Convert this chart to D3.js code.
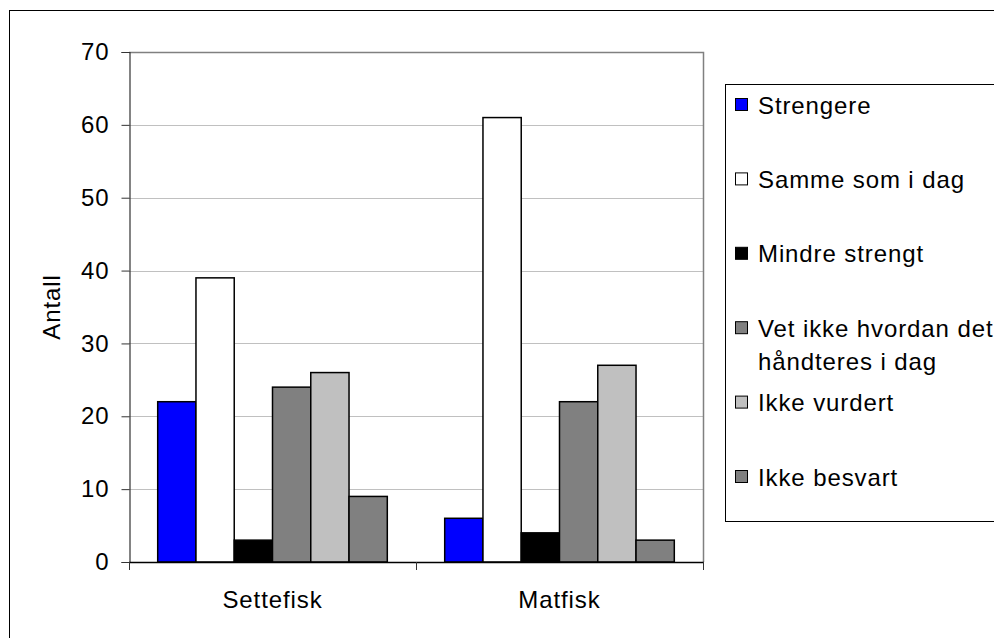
<!DOCTYPE html>
<html>
<head>
<meta charset="utf-8">
<script src="https://cdn.jsdelivr.net/npm/d3@7"></script>
<style>
  html, body { margin: 0; padding: 0; background: #fff; }
  svg { display: block; }
  text { font-family: "Liberation Sans", Arial, sans-serif; fill: #000; }
</style>
</head>
<body>
<svg id="chart" width="994" height="638"></svg>
<script>
const categories = ["Settefisk", "Matfisk"];
const seriesNames = ["Strengere", "Samme som i dag", "Mindre strengt", "Vet ikke hvordan det håndteres i dag", "Ikke vurdert", "Ikke besvart"];
const legendLines = [["Strengere"], ["Samme som i dag"], ["Mindre strengt"], ["Vet ikke hvordan det", "håndteres i dag"], ["Ikke vurdert"], ["Ikke besvart"]];
const settefiskValues = [22, 39, 3, 24, 26, 9];
const matfiskValues = [6, 61, 4, 22, 27, 3];
const seriesColors = ["#0000FF", "#FFFFFF", "#000000", "#808080", "#C0C0C0", "#808080"];
const yTicks = [0, 10, 20, 30, 40, 50, 60, 70];
const yTitle = "Antall";

const valuesByCategory = { "Settefisk": settefiskValues, "Matfisk": matfiskValues };

const svg = d3.select("#chart");
const FONT = 24, LS = 0.9;

// outer chart border
svg.append("rect").attr("x", 9.5).attr("y", 10.5).attr("width", 1100).attr("height", 800)
  .attr("fill", "#fff").attr("stroke", "#000").attr("stroke-width", 1);

const plot = { left: 129, right: 703, top: 52, bottom: 562 };

const x0 = d3.scaleBand().domain(categories).range([plot.left, plot.right]).padding(0);
const x1 = d3.scaleBand().domain(seriesNames).range([0, x0.bandwidth()]).paddingInner(0).paddingOuter(0.75);
const y = d3.scaleLinear().domain([0, 70]).range([plot.bottom, plot.top]);

// gridlines
svg.append("g").selectAll("line").data(yTicks.filter(t => t > 0 && t < 70)).join("line")
  .attr("x1", plot.left).attr("x2", plot.right)
  .attr("y1", d => Math.round(y(d)) + 0.5).attr("y2", d => Math.round(y(d)) + 0.5)
  .attr("stroke", "#c0c0c0").attr("stroke-width", 1);

// plot area border (top and right)
svg.append("path")
  .attr("d", `M${plot.left},${Math.round(y(70)) + 0.5}H${plot.right + 0.5}V${plot.bottom}`)
  .attr("fill", "none").attr("stroke", "#808080").attr("stroke-width", 1.5);

// bars
const groups = svg.append("g").selectAll("g").data(categories).join("g")
  .attr("transform", d => `translate(${x0(d)},0)`);
groups.selectAll("rect").data(c => valuesByCategory[c].map((v, i) => ({ v, i, s: seriesNames[i] }))).join("rect")
  .attr("x", d => x1(d.s))
  .attr("width", x1.bandwidth())
  .attr("y", d => y(d.v))
  .attr("height", d => y(0) - y(d.v))
  .attr("fill", d => seriesColors[d.i])
  .attr("stroke", "#000").attr("stroke-width", 1.5);

// y axis
const yAxis = svg.append("g").attr("transform", `translate(${plot.left + 0.5},0)`)
  .call(d3.axisLeft(y).tickValues(yTicks).tickSize(8).tickPadding(12).tickFormat(d3.format("d")));
yAxis.select(".domain").attr("stroke", "#333").attr("stroke-width", 1.2);
yAxis.selectAll(".tick line").attr("stroke", "#333");
yAxis.selectAll(".tick text").style("font-size", FONT + "px").style("letter-spacing", LS + "px")
  .attr("font-family", null).attr("fill", "#000");

// x axis baseline + boundary ticks
const xg = svg.append("g");
xg.append("line").attr("x1", plot.left).attr("x2", plot.right + 1)
  .attr("y1", y(0) + 0.5).attr("y2", y(0) + 0.5).attr("stroke", "#000").attr("stroke-width", 1.5);
const boundaries = categories.map(c => x0(c)).concat([x0(categories[categories.length - 1]) + x0.bandwidth()]);
xg.selectAll("line.tk").data(boundaries).join("line").attr("class", "tk")
  .attr("x1", d => Math.round(d) + 0.5).attr("x2", d => Math.round(d) + 0.5)
  .attr("y1", y(0)).attr("y2", y(0) + 8).attr("stroke", "#333");
xg.selectAll("text").data(categories).join("text")
  .attr("x", d => x0(d) + x0.bandwidth() / 2).attr("y", 608)
  .attr("text-anchor", "middle").style("font-size", FONT + "px").style("letter-spacing", LS + "px")
  .text(d => d);

// y title
svg.append("text").attr("transform", `translate(60,${(plot.top + plot.bottom) / 2}) rotate(-90)`)
  .attr("text-anchor", "middle").style("font-size", FONT + "px").style("letter-spacing", LS + "px")
  .text(yTitle);

// legend
const lg = svg.append("g");
lg.append("rect").attr("x", 725.5).attr("y", 84.5).attr("width", 400).attr("height", 437)
  .attr("fill", "#fff").attr("stroke", "#000").attr("stroke-width", 1);
const legendTop = 105, legendStep = 74.4;
const items = lg.selectAll("g.item").data(legendLines).join("g").attr("class", "item")
  .attr("transform", (d, i) => `translate(0,${legendTop + i * legendStep})`);
items.append("rect").attr("x", 735.5).attr("y", -6.5).attr("width", 12).attr("height", 12)
  .attr("fill", (d, i) => seriesColors[i]).attr("stroke", "#000").attr("stroke-width", 1);
items.each(function (lines) {
  const g = d3.select(this);
  lines.forEach((ln, j) => {
    g.append("text").attr("x", 758).attr("y", j * 33 + 8.5)
      .style("font-size", FONT + "px").style("letter-spacing", LS + "px").text(ln);
  });
});
</script>
</body>
</html>
